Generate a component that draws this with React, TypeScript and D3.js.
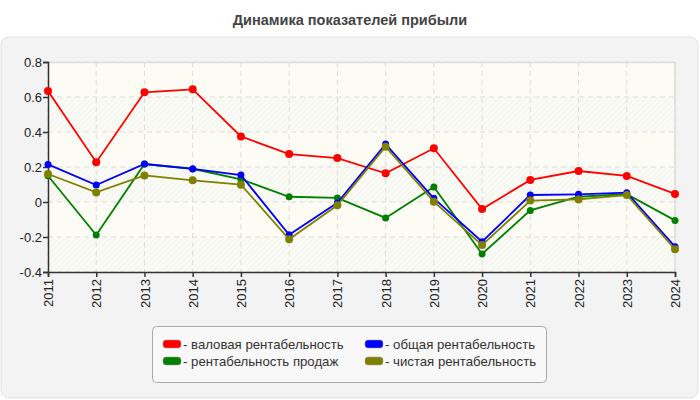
import React, { useRef, useEffect } from 'react';
import * as d3 from 'd3';

const years = ['2011', '2012', '2013', '2014', '2015', '2016', '2017', '2018', '2019', '2020', '2021', '2022', '2023', '2024'];
const grossMargin = [0.634, 0.227, 0.627, 0.644, 0.375, 0.274, 0.251, 0.164, 0.307, -0.04, 0.126, 0.177, 0.149, 0.046];
const salesMargin = [0.15, -0.189, 0.217, 0.19, 0.13, 0.03, 0.023, -0.091, 0.086, -0.297, -0.048, 0.03, 0.045, -0.105];
const totalMargin = [0.215, 0.097, 0.217, 0.189, 0.154, -0.187, -0.005, 0.331, 0.021, -0.227, 0.04, 0.044, 0.053, -0.255];
const netMargin = [0.16, 0.055, 0.152, 0.124, 0.099, -0.213, -0.019, 0.316, 0.002, -0.246, 0.008, 0.015, 0.04, -0.27];
const yTicks = [-0.4, -0.2, 0, 0.2, 0.4, 0.6, 0.8];

const series = [
  { name: 'валовая рентабельность', color: '#ff0000', values: grossMargin, r: 4 },
  { name: 'рентабельность продаж', color: '#008000', values: salesMargin, r: 3.5 },
  { name: 'общая рентабельность', color: '#0000ff', values: totalMargin, r: 3.5 },
  { name: 'чистая рентабельность', color: '#808000', values: netMargin, r: 4 },
];
const legendOrder = [0, 2, 1, 3];

const W = 700;
const H = 400;
const margin = { top: 62, right: 25, bottom: 128, left: 48 };

const App: React.FC = () => {
  const svgRef = useRef<SVGSVGElement>(null);

  useEffect(() => {
    const svg = d3.select(svgRef.current);
    svg.selectAll('*').remove();
    const innerW = W - margin.left - margin.right;
    const innerH = H - margin.top - margin.bottom;

    const defs = svg.append('defs');
    const pat = defs
      .append('pattern')
      .attr('id', 'hatch')
      .attr('width', 4)
      .attr('height', 4)
      .attr('patternUnits', 'userSpaceOnUse')
      .attr('patternTransform', 'rotate(45)');
    pat.append('rect').attr('width', 4).attr('height', 4).attr('fill', '#fbfbf5');
    pat.append('line').attr('x1', 0).attr('y1', 0).attr('x2', 0).attr('y2', 4).attr('stroke', '#eeeeee').attr('stroke-width', 1.2);

    // Title
    svg
      .append('text')
      .attr('x', W / 2)
      .attr('y', 25)
      .attr('text-anchor', 'middle')
      .attr('fill', '#444')
      .style('font-family', '"Liberation Sans", Arial, sans-serif')
      .style('font-size', '14.5px')
      .style('font-weight', 'bold')
      .text('Динамика показателей прибыли');

    // Panel
    svg
      .append('rect')
      .attr('x', 1)
      .attr('y', 37)
      .attr('width', W - 3)
      .attr('height', H - 39)
      .attr('rx', 8)
      .attr('fill', '#f3f3f3')
      .attr('stroke', '#e2e2e2');

    const g = svg.append('g').attr('transform', `translate(${margin.left},${margin.top})`);

    const x = d3.scalePoint<string>().domain(years).range([0, innerW]);
    const y = d3.scaleLinear().domain([-0.4, 0.8]).range([innerH, 0]);

    // Plot background with alternating bands
    g.append('rect').attr('width', innerW).attr('height', innerH).attr('fill', '#fcfcf4');
    yTicks.slice(0, -1).forEach((t, i) => {
      if (i % 2 === 0) {
        g.append('rect')
          .attr('x', 0)
          .attr('y', y(t + 0.2))
          .attr('width', innerW)
          .attr('height', y(t) - y(t + 0.2))
          .attr('fill', 'url(#hatch)');
      }
    });

    // Grid
    g.selectAll('.gx')
      .data(years)
      .enter()
      .append('line')
      .attr('x1', d => x(d)!)
      .attr('x2', d => x(d)!)
      .attr('y1', 0)
      .attr('y2', innerH)
      .attr('stroke', '#dcdcdc')
      .attr('stroke-dasharray', '5,4');
    g.selectAll('.gy')
      .data(yTicks)
      .enter()
      .append('line')
      .attr('x1', 0)
      .attr('x2', innerW)
      .attr('y1', d => y(d))
      .attr('y2', d => y(d))
      .attr('stroke', '#dcdcdc')
      .attr('stroke-dasharray', '5,4');

    // Frame top/right
    g.append('line').attr('x1', 0).attr('x2', innerW).attr('y1', 0.5).attr('y2', 0.5).attr('stroke', '#dddddd').attr('stroke-width', 1.5);
    g.append('line').attr('x1', innerW).attr('x2', innerW).attr('y1', 0).attr('y2', innerH).attr('stroke', '#dddddd').attr('stroke-width', 1.5);

    // Axes
    const yAxis = g.append('g').call(
      d3.axisLeft(y).tickValues(yTicks).tickSize(5).tickFormat(d => String(+(+d).toFixed(1)))
    );
    const xAxis = g.append('g').attr('transform', `translate(0,${innerH})`).call(d3.axisBottom(x).tickSize(5));
    [yAxis, xAxis].forEach(a => {
      a.select('.domain').attr('stroke', '#333').attr('stroke-width', 1.5);
      a.selectAll('.tick line').attr('stroke', '#333').attr('stroke-width', 1.5);
      a.selectAll('text')
        .attr('fill', '#222')
        .style('font-family', '"Liberation Sans", Arial, sans-serif')
        .style('font-size', '13px');
    });
    yAxis.selectAll('text').attr('x', -6);
    xAxis
      .selectAll('text')
      .attr('transform', 'rotate(-90)')
      .attr('text-anchor', 'end')
      .attr('dy', '0.35em')
      .attr('x', -7)
      .attr('y', 0);

    // Lines
    const line = d3
      .line<number>()
      .x((_, i) => x(years[i])!)
      .y(d => y(d));
    series.forEach(s => {
      g.append('path')
        .datum(s.values)
        .attr('fill', 'none')
        .attr('stroke', s.color)
        .attr('stroke-width', 1.8)
        .attr('d', line);
      g.selectAll(null)
        .data(s.values)
        .enter()
        .append('circle')
        .attr('cx', (_, i) => x(years[i])!)
        .attr('cy', d => y(d))
        .attr('r', s.r)
        .attr('fill', s.color);
    });

    // Legend
    const lg = svg.append('g').attr('transform', 'translate(152,326)');
    lg.append('rect')
      .attr('x', 0.5)
      .attr('y', 0.5)
      .attr('width', 394)
      .attr('height', 56)
      .attr('rx', 4)
      .attr('fill', '#f8f8f8')
      .attr('stroke', '#aaaaaa');
    legendOrder.forEach((si, k) => {
      const s = series[si];
      const col = k % 2;
      const row = Math.floor(k / 2);
      const lx = 11 + col * 202;
      const ly = 18 + row * 17;
      lg.append('rect')
        .attr('x', lx)
        .attr('y', ly - 4)
        .attr('width', 18)
        .attr('height', 8)
        .attr('rx', 3)
        .attr('fill', s.color)
        .attr('stroke', '#999')
        .attr('stroke-width', 0.5);
      lg.append('text')
        .attr('x', lx + 20)
        .attr('y', ly + 4.5)
        .attr('fill', '#333')
        .style('font-family', '"Liberation Sans", Arial, sans-serif')
        .style('font-size', '13.2px')
        .text(`- ${s.name}`);
    });
  }, []);

  return (
    <svg
      ref={svgRef}
      width={W}
      height={H}
      style={{ position: 'absolute', left: 0, top: 0, background: '#fff' }}
    />
  );
};

export default App;
